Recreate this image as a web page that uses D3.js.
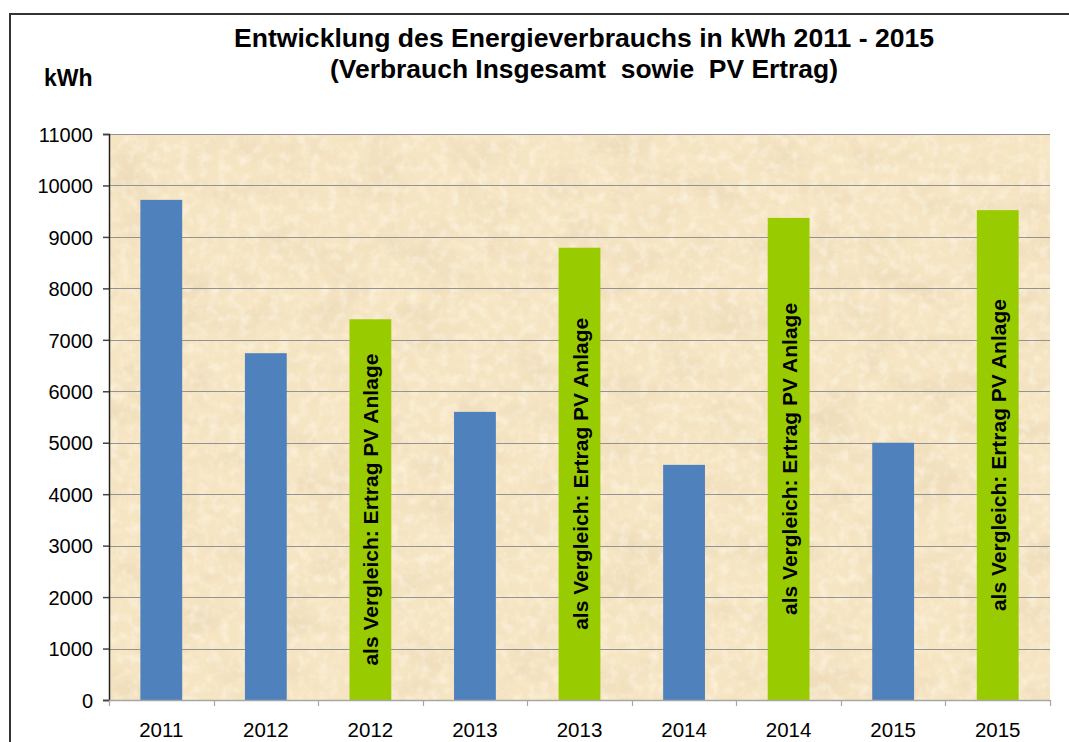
<!DOCTYPE html>
<html>
<head>
<meta charset="utf-8">
<script src="https://cdn.jsdelivr.net/npm/d3@7"></script>
<style>
    body { margin: 0; background: #fff; }
    svg { display: block; font-family: Arial, "Liberation Sans", sans-serif; }
</style>
</head>
<body>
<div id="chart"></div>
<script>
'use strict';

// Data
const categories = ["2011", "2012", "2012", "2013", "2013", "2014", "2014", "2015", "2015"];
const values = [9720, 6740, 7400, 5600, 8790, 4570, 9370, 5000, 9520];
const kinds = ["total", "total", "pv", "total", "pv", "total", "pv", "total", "pv"];
const yTicks = [0, 1000, 2000, 3000, 4000, 5000, 6000, 7000, 8000, 9000, 10000, 11000];
const titleLines = ["Entwicklung des Energieverbrauchs in kWh 2011 - 2015", "(Verbrauch Insgesamt  sowie  PV Ertrag)"];
const pvLabel = "als Vergleich: Ertrag PV Anlage";
const colors = { total: "#4f81bd", pv: "#99cc00" };

function main() {
    const width = 1069, height = 742;
    const margin = { top: 134, right: 19, bottom: 42, left: 109 };
    const innerW = width - margin.left - margin.right;
    const innerH = height - margin.top - margin.bottom;

    const svg = d3.select("#chart").append("svg")
        .attr("width", width)
        .attr("height", height);

    // parchment-ish texture for the plot area
    const defs = svg.append("defs");
    const f = defs.append("filter").attr("id", "paper")
        .attr("x", 0).attr("y", 0).attr("width", "100%").attr("height", "100%");
    f.append("feTurbulence").attr("type", "fractalNoise")
        .attr("baseFrequency", "0.02 0.03").attr("numOctaves", 5).attr("seed", 11).attr("result", "n");
    f.append("feColorMatrix").attr("in", "n").attr("type", "matrix")
        .attr("values", "0 0 0 0 0.80  0 0 0 0 0.66  0 0 0 0 0.45  0 0 0 -1.3 0.72");
    f.append("feComposite").attr("in2", "SourceGraphic").attr("operator", "in");

    const f2 = defs.append("filter").attr("id", "grain")
        .attr("x", 0).attr("y", 0).attr("width", "100%").attr("height", "100%");
    f2.append("feTurbulence").attr("type", "fractalNoise")
        .attr("baseFrequency", "0.1").attr("numOctaves", 3).attr("seed", 4).attr("result", "n");
    f2.append("feColorMatrix").attr("in", "n").attr("type", "matrix")
        .attr("values", "0 0 0 0 1  0 0 0 0 0.97  0 0 0 0 0.88  0 0 0 1.6 -0.7");
    f2.append("feComposite").attr("in2", "SourceGraphic").attr("operator", "in");

    // outer frame (runs off the right and bottom edge)
    svg.append("rect")
        .attr("x", 10).attr("y", 14)
        .attr("width", 1100).attr("height", 800)
        .attr("fill", "#fff")
        .attr("stroke", "#333").attr("stroke-width", 2);

    const g = svg.append("g").attr("transform", `translate(${margin.left},${margin.top})`);

    g.append("rect").attr("width", innerW).attr("height", innerH).attr("fill", "#f6e5c3");
    g.append("rect").attr("width", innerW).attr("height", innerH).attr("fill", "#000")
        .attr("filter", "url(#paper)");
    g.append("rect").attr("width", innerW).attr("height", innerH).attr("fill", "#000")
        .attr("filter", "url(#grain)").attr("opacity", 0.7);

    const y = d3.scaleLinear().domain([0, 11000]).range([innerH, 0]);
    const x = d3.scaleBand().domain(d3.range(categories.length)).range([0, innerW])
        .paddingInner(0.6).paddingOuter(0.3);

    // gridlines
    g.selectAll(".grid").data(yTicks.slice(1)).enter().append("line")
        .attr("class", "grid")
        .attr("x1", 0).attr("x2", innerW)
        .attr("y1", d => Math.round(y(d)) + 0.5).attr("y2", d => Math.round(y(d)) + 0.5)
        .attr("stroke", "#939393").attr("stroke-width", 1.2);

    // bars
    g.selectAll(".bar").data(values).enter().append("rect")
        .attr("class", "bar")
        .attr("x", (d, i) => x(i))
        .attr("y", d => y(d))
        .attr("width", x.bandwidth())
        .attr("height", d => innerH - y(d))
        .attr("fill", (d, i) => colors[kinds[i]]);

    // labels inside the PV bars
    g.selectAll(".pvlabel").data(values.map((v, i) => [v, i]).filter(d => kinds[d[1]] == "pv"))
        .enter().append("text")
        .attr("class", "pvlabel")
        .attr("transform", d => `translate(${x(d[1]) + x.bandwidth() / 2 + 8},${(y(d[0]) + innerH) / 2}) rotate(-90)`)
        .attr("text-anchor", "middle")
        .attr("font-size", 21)
        .attr("font-weight", "bold")
        .attr("fill", "#000")
        .text(pvLabel);

    // y axis
    const yAxis = g.append("g").call(d3.axisLeft(y).tickValues(yTicks).tickFormat(d3.format("d")).tickSize(6).tickPadding(10));
    yAxis.select(".domain").attr("stroke", "#222").attr("stroke-width", 1.5);
    yAxis.selectAll(".tick line").attr("stroke", "#444").attr("stroke-width", 1.5);
    yAxis.selectAll("text").attr("font-size", 20).attr("fill", "#000").attr("font-family", "Arial, 'Liberation Sans', sans-serif")
        .attr("dy", "0.36em");

    // x axis
    const xg = g.append("g").attr("transform", `translate(0,${innerH})`);
    xg.append("line").attr("x1", 0).attr("x2", innerW).attr("y1", 0.5).attr("y2", 0.5)
        .attr("stroke", "#a6a6a6").attr("stroke-width", 1.5);
    const step = x.step();
    xg.selectAll(".xt").data(d3.range(categories.length + 1)).enter().append("line")
        .attr("class", "xt")
        .attr("x1", i => Math.round(i * step) + 0.5).attr("x2", i => Math.round(i * step) + 0.5)
        .attr("y1", 0).attr("y2", 6)
        .attr("stroke", "#a6a6a6").attr("stroke-width", 1.2);
    xg.selectAll(".xl").data(categories).enter().append("text")
        .attr("class", "xl")
        .attr("x", (d, i) => x(i) + x.bandwidth() / 2)
        .attr("y", 37)
        .attr("text-anchor", "middle")
        .attr("font-size", 20.5)
        .attr("fill", "#000")
        .text(d => d);

    // titles
    const titleWidths = [700, 508];
    svg.selectAll(".title").data(titleLines).enter().append("text")
        .attr("class", "title")
        .attr("x", 584)
        .attr("y", (d, i) => 47 + i * 31)
        .attr("text-anchor", "middle")
        .attr("font-size", 25)
        .attr("font-weight", "bold")
        .attr("fill", "#000")
        .attr("textLength", (d, i) => titleWidths[i])
        .attr("lengthAdjust", "spacingAndGlyphs")
        .style("white-space", "pre")
        .text(d => d);

    svg.append("text")
        .attr("x", 44).attr("y", 86)
        .attr("font-size", 23)
        .attr("font-weight", "bold")
        .attr("fill", "#000")
        .text("kWh");
}

main();
</script>
</body>
</html>
